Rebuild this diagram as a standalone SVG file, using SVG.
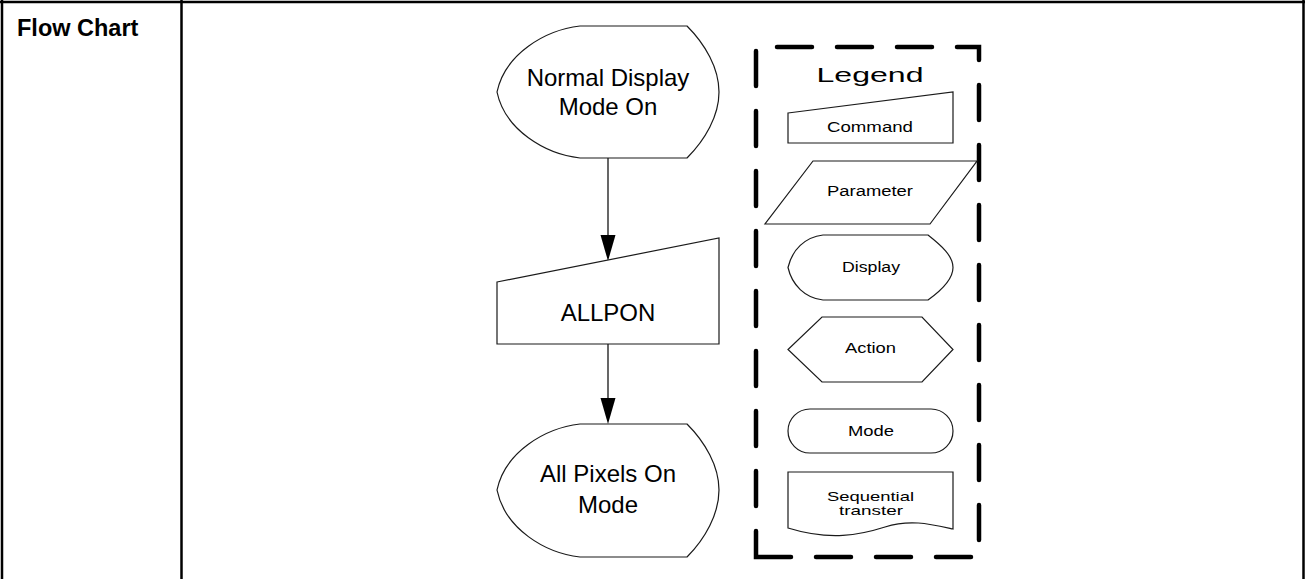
<svg xmlns="http://www.w3.org/2000/svg" width="1305" height="579" viewBox="0 0 1305 579">
<style>
.b{stroke:#000;stroke-width:2.5;fill:none}
.s{fill:#fff;stroke:#1a1a1a;stroke-width:1.2}
.t{font-family:"Liberation Sans",Arial,sans-serif;fill:#000;text-anchor:middle}
.m{font-size:24px}
.l{font-size:14px}
.q{font-size:13px}
.c{stroke:#000;stroke-width:1.2;fill:none}
</style>
<g id="table">
<line class="b" x1="0" y1="2" x2="1305" y2="2"/>
<line class="b" x1="2" y1="0" x2="2" y2="579"/>
<line class="b" x1="181.5" y1="0" x2="181.5" y2="579"/>
<line class="b" x1="1303.5" y1="0" x2="1303.5" y2="579"/>
<text class="t" x="17" y="36" style="text-anchor:start;font-weight:bold;font-size:23.5px">Flow Chart</text>
</g>
<g id="connectors">
<line class="c" x1="608" y1="158" x2="608" y2="237"/>
<polygon points="600.5,235 615.5,235 608,261" fill="#000"/>
<line class="c" x1="608" y1="344" x2="608" y2="400"/>
<polygon points="600.5,398 615.5,398 608,424" fill="#000"/>
</g>
<g id="normal-display">
<path class="s" d="M580,26 L687,26 C705,44 719,68 719,92 C719,116 705,140 687,158 L580,158 C545,154 505,130 497,92 C505,54 545,30 580,26 Z"/>
<text class="t m" x="608" y="86">Normal Display</text>
<text class="t m" x="608" y="115">Mode On</text>
</g>
<g id="allpon">
<path class="s" d="M497,282 L719,238 L719,344 L497,344 Z"/>
<text class="t m" x="608" y="321">ALLPON</text>
</g>
<g id="all-pixels-on">
<path class="s" d="M580,424 L687,424 C705,442 719,466 719,490 C719,514 705,539 687,557 L580,557 C545,553 505,529 497,490 C505,452 545,428 580,424 Z"/>
<text class="t m" x="608" y="482">All Pixels On</text>
<text class="t m" x="608" y="513">Mode</text>
</g>
<g id="legend">
<path d="M756,557 H979 V47 H756 Z" fill="none" stroke="#000" stroke-width="4.5" stroke-linecap="round" stroke-dasharray="35 25"/>
<text class="t" x="870" y="82" style="font-size:20.5px" textLength="107" lengthAdjust="spacingAndGlyphs">Legend</text>
</g>
<g id="legend-command">
<path class="s" d="M788,113 L953,92 L953,143 L788,143 Z"/>
<text class="t l" x="870" y="132" textLength="86" lengthAdjust="spacingAndGlyphs">Command</text>
</g>
<g id="legend-parameter">
<path class="s" d="M813,161 L977,161 L930,224 L765,224 Z"/>
<text class="t l" x="870" y="196" textLength="86" lengthAdjust="spacingAndGlyphs">Parameter</text>
</g>
<g id="legend-display">
<path class="s" d="M823,235 L928,235 C942,246 953,256 953,267.5 C953,279 942,290 928,300 L823,300 C805,298 792,285 788,267.5 C792,250 805,237 823,235 Z"/>
<text class="t l" x="871" y="272" textLength="58" lengthAdjust="spacingAndGlyphs">Display</text>
</g>
<g id="legend-action">
<path class="s" d="M822,317 L922,317 L953,349.5 L922,382 L822,382 L788,349.5 Z"/>
<text class="t l" x="870.5" y="353" textLength="51" lengthAdjust="spacingAndGlyphs">Action</text>
</g>
<g id="legend-mode">
<rect class="s" x="788" y="409" width="165" height="44" rx="22" ry="22"/>
<text class="t l" x="871" y="436" textLength="46" lengthAdjust="spacingAndGlyphs">Mode</text>
</g>
<g id="legend-sequential">
<path class="s" d="M788,472 L953,472 L953,529 C930,524 910,519 885,527 C860,535 830,541 788,528 Z"/>
<text class="t q" x="870.5" y="500.5" textLength="87" lengthAdjust="spacingAndGlyphs">Sequential</text>
<text class="t q" x="871" y="515" textLength="64" lengthAdjust="spacingAndGlyphs">transter</text>
</g>
</svg>
